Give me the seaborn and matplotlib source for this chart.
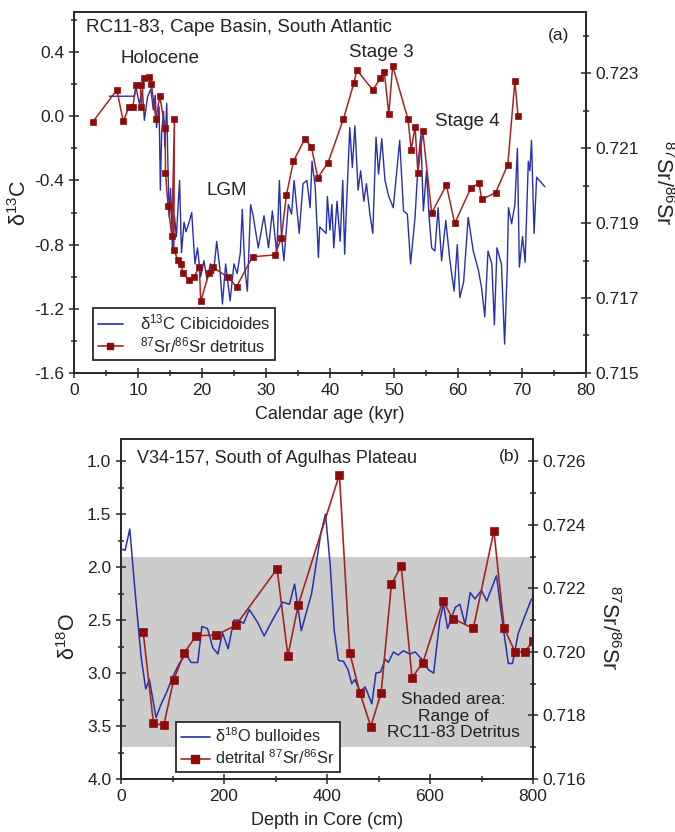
import numpy as np
import pandas as pd
import matplotlib
matplotlib.use('Agg')
import matplotlib.pyplot as plt
import matplotlib.ticker as mticker
import matplotlib.transforms as mtrans
from matplotlib.patches import Rectangle
from matplotlib.lines import Line2D
import seaborn as sns

# ---------------- data: panel (a) RC11-83 ----------------
age_d13c = [5.5, 9.4, 9.7, 10.2, 10.7, 11.0, 11.5, 12.0, 12.4, 12.7, 12.9, 13.3, 13.5, 13.7,
            14.0, 14.2, 14.5, 14.7, 14.9, 15.1, 15.4, 15.7, 16.0, 16.5, 16.8, 17.2, 17.5,
            18.0, 18.4, 18.9, 19.3, 19.8, 20.3, 20.8, 21.3, 21.8, 22.3, 22.8, 23.2, 23.7,
            24.0, 24.4, 25.0, 25.5, 26.0, 26.3, 26.7, 27.1, 27.6, 28.0, 28.8, 29.7, 30.4,
            31.0, 31.7, 32.1, 32.4, 32.8, 33.5, 34.0, 34.4, 35.2, 35.8, 36.4, 36.9, 37.2,
            37.7, 38.2, 38.4, 39.4, 39.6, 40.0, 40.3, 40.6, 41.1, 41.6, 42.0, 42.3, 42.6,
            43.1, 43.5, 43.9, 44.4, 44.8, 45.3, 45.7, 46.25, 46.7, 47.2, 47.6, 48.1, 48.6,
            49.2, 49.9, 50.9, 51.5, 52.1, 52.6, 53.3, 53.8, 54.2, 54.6, 55.1, 55.5, 55.9,
            56.4, 56.9, 57.45, 58.1, 58.75, 59.4, 59.9, 60.3, 60.9, 61.6, 62.4, 63.2, 63.7,
            64.2, 64.7, 65.3, 65.7, 66.1, 66.8, 67.3, 67.7, 67.9, 68.4, 68.9, 69.3, 69.6,
            70.1, 70.5, 71.0, 71.25, 71.5, 71.9, 72.3, 73.6]
d13c = [0.125, 0.125, 0.18, 0.08, 0.16, -0.025, 0.12, 0.17, 0.04, 0.13, -0.07, 0.06, -0.46, -0.10,
        0.03, -0.19, 0.08, -0.35, -0.63, -0.45, -0.85, -0.62, -0.75, -0.40, -0.85, -0.66, -0.72,
        -0.66, -0.60, -0.92, -0.82, -1.00, -0.90, -1.02, -0.92, -0.98, -0.78, -0.95, -1.17, -0.92,
        -1.02, -1.15, -0.92, -0.98, -0.85, -0.58, -0.95, -1.09, -0.55, -0.62, -0.82, -0.62, -0.82,
        -0.59, -0.86, -0.40, -0.73, -0.90, -0.55, -0.61, -0.40, -0.73, -0.42, -0.40, -0.57, -0.28,
        -0.44, -0.88, -0.69, -0.73, -0.50, -0.71, -0.55, -0.82, -0.53, -0.78, -0.40, -0.86, -0.55,
        -0.07, -0.32, -0.06, -0.46, -0.34, -0.53, -0.42, -0.61, -0.73, -0.13, -0.36, -0.14, -0.40,
        -0.50, -0.57, -0.15, -0.59, -0.61, -0.92, -0.63, -0.28, -0.12, -0.59, -0.34, -0.63, -0.82,
        -0.84, -0.57, -0.90, -0.65, -0.90, -1.09, -0.80, -1.13, -1.03, -0.63, -0.84, -0.96, -1.07,
        -1.25, -0.84, -0.92, -1.30, -0.82, -0.92, -1.42, -0.96, -0.57, -0.67, -0.55, -0.20, -0.94,
        -0.75, -0.91, -0.28, -0.34, -0.15, -0.73, -0.38, -0.44]

age_sr = [2.9, 6.7, 7.7, 8.6, 9.2, 9.7, 10.4, 10.5, 10.9, 11.8, 12.1, 12.8, 13.4, 14.25, 14.3,
          14.7, 15.3, 15.7, 15.6, 16.25, 16.8, 17.0, 18.0, 18.75, 19.6, 19.8, 21.1, 21.7, 24.1,
          25.4, 27.9, 31.4, 32.4, 33.2, 34.3, 36.1, 37.1, 38.1, 39.7, 42.1, 43.75, 44.2, 46.7,
          47.9, 48.5, 49.2, 49.8, 52.2, 52.7, 53.3, 53.75, 54.5, 55.9, 58.2, 59.5, 62.0, 63.3,
          63.7, 65.9, 67.8, 68.9, 69.4]
sr_a = [0.72169, 0.72255, 0.72171, 0.72210, 0.72210, 0.72268, 0.72268, 0.72210, 0.72288, 0.72290,
        0.72270, 0.72177, 0.72239, 0.72153, 0.72034, 0.71946, 0.71865, 0.72177, 0.71828, 0.71801,
        0.71790, 0.71766, 0.71747, 0.71757, 0.71782, 0.71691, 0.71766, 0.71782, 0.71755, 0.71730,
        0.71810, 0.71815, 0.71859, 0.71975, 0.72065, 0.72125, 0.72103, 0.72021, 0.72061, 0.72177,
        0.72274, 0.72308, 0.72255, 0.72286, 0.72303, 0.72190, 0.72319, 0.72177, 0.72095, 0.72157,
        0.72033, 0.72145, 0.71927, 0.72001, 0.71899, 0.71993, 0.72007, 0.71963, 0.71981, 0.72056,
        0.72279, 0.72185]

# ---------------- data: panel (b) V34-157 ----------------
depth_d18o = [0, 8, 17, 26, 39, 48, 55, 68, 78, 87, 100, 113, 126, 136, 149, 157, 168, 178, 188,
              197, 208, 219, 228, 238, 249, 265, 278, 294, 314, 327, 337, 350, 370, 388, 397,
              406, 414, 422, 432, 441, 448, 454, 464, 474, 487, 495, 504, 513, 519, 529, 538,
              548, 561, 571, 584, 597, 607, 619, 626, 634, 649, 658, 668, 678, 687, 700, 710,
              729, 742, 752, 760, 771, 781, 797]
d18o = [1.83, 1.84, 1.64, 2.16, 2.85, 3.15, 3.06, 3.42, 3.29, 3.20, 3.04, 2.91, 2.82, 2.90, 2.90,
        2.56, 2.58, 2.76, 2.82, 2.62, 2.77, 2.50, 2.50, 2.53, 2.40, 2.52, 2.65, 2.50, 2.33, 2.35,
        2.16, 2.60, 2.25, 1.68, 1.50, 1.97, 2.60, 2.88, 2.89, 2.97, 3.10, 3.06, 3.18, 3.13, 3.29,
        3.00, 2.99, 2.87, 2.90, 2.80, 2.83, 2.79, 2.82, 2.80, 2.87, 2.97, 3.00, 2.50, 2.35, 2.58,
        2.38, 2.35, 2.54, 2.24, 2.30, 2.22, 2.32, 2.08, 2.57, 2.91, 2.91, 2.63, 2.50, 2.30]

depth_sr = [43, 63, 83, 102, 123, 146, 185, 223, 303, 324, 344, 424, 444, 464, 485, 505, 525,
            544, 565, 586, 625, 644, 684, 724, 744, 765, 784, 800]
sr_b = [0.72063, 0.71775, 0.71769, 0.71911, 0.71998, 0.72051, 0.72053, 0.72084, 0.72261, 0.71988,
        0.72147, 0.72558, 0.71998, 0.71870, 0.71765, 0.71871, 0.72213, 0.72270, 0.71919, 0.71966,
        0.72161, 0.72105, 0.72074, 0.72381, 0.72074, 0.72000, 0.72000, 0.72035]

shade_sr_range = [0.717, 0.723]   # range of RC11-83 detritus

# ---------------- style ----------------
sns.set_style('ticks')
plt.rcParams['font.family'] = ['Liberation Sans', 'DejaVu Sans']
plt.rcParams['axes.unicode_minus'] = False
plt.rcParams['mathtext.fontset'] = 'custom'
plt.rcParams['mathtext.rm'] = 'Liberation Sans'
plt.rcParams['mathtext.it'] = 'Liberation Sans:italic'
plt.rcParams['mathtext.bf'] = 'Liberation Sans:bold'

BLUE = '#2630b0'
RED = '#a52424'
MARK = '#8c0c0c'
SPINE = '#2a2a2a'
TXT = '#222222'


def sup(s):
    return r'$^{\mathregular{' + s + '}}$'


def style_axes(ax):
    for sp in ax.spines.values():
        sp.set_color(SPINE)
        sp.set_linewidth(1.3)
        sp.set_visible(True)
    ax.tick_params(which='both', direction='inout', colors=SPINE, labelcolor=TXT,
                   labelsize=12.5, width=1.1, top=False)
    ax.tick_params(which='major', length=7)
    ax.tick_params(which='minor', length=4.5)
    ax.grid(False)
    ax.set_xlabel('')
    ax.set_ylabel('')


fig = plt.figure(figsize=(6.75, 8.32), dpi=100)

# ================= panel (a) =================
ax1 = fig.add_axes([0.1096, 0.5517, 0.7584, 0.4339])
ax2 = ax1.twinx()

df_c = pd.DataFrame({'age': age_d13c, 'd13c': d13c})
df_sa = pd.DataFrame({'age': age_sr, 'sr': sr_a})
sns.lineplot(data=df_c, x='age', y='d13c', ax=ax1, color=BLUE, lw=1.0,
             estimator=None, sort=False, legend=False)
sns.lineplot(data=df_sa, x='age', y='sr', ax=ax2, color=RED, lw=1.1, marker='s',
             markersize=4.6, markerfacecolor=MARK, markeredgecolor=MARK, markeredgewidth=0.5,
             estimator=None, sort=False, legend=False)

ax1.set_xlim(0, 80)
ax1.set_ylim(-1.6, 0.65)
ax2.set_ylim(0.715, 0.72463)
ax1.xaxis.set_major_locator(mticker.MultipleLocator(10))
ax1.xaxis.set_minor_locator(mticker.MultipleLocator(5))
ax1.yaxis.set_major_locator(mticker.FixedLocator([-1.6, -1.2, -0.8, -0.4, 0.0, 0.4]))
ax1.yaxis.set_minor_locator(mticker.MultipleLocator(0.2))
ax1.yaxis.set_major_formatter(mticker.FormatStrFormatter('%.1f'))
ax2.yaxis.set_major_locator(mticker.FixedLocator([0.715, 0.717, 0.719, 0.721, 0.723]))
ax2.yaxis.set_minor_locator(mticker.FixedLocator([0.716, 0.718, 0.720, 0.722, 0.724]))
ax2.yaxis.set_major_formatter(mticker.FormatStrFormatter('%.3f'))
style_axes(ax1)
style_axes(ax2)
ax1.tick_params(right=False)

ax1.text(0.023, 0.956, 'RC11-83, Cape Basin, South Atlantic', transform=ax1.transAxes,
         ha='left', va='center', fontsize=13.5, color=TXT)
ax1.text(0.947, 0.936, '(a)', transform=ax1.transAxes, ha='center', va='center',
         fontsize=12.5, color=TXT)
ax1.text(13.4, 0.36, 'Holocene', ha='center', va='center', fontsize=13.5, color=TXT)
ax1.text(23.8, -0.46, 'LGM', ha='center', va='center', fontsize=13.5, color=TXT)
ax1.text(48.0, 0.40, 'Stage 3', ha='center', va='center', fontsize=13.5, color=TXT)
ax1.text(61.4, -0.03, 'Stage 4', ha='center', va='center', fontsize=13.5, color=TXT)

ax1.set_xlabel('Calendar age (kyr)', fontsize=13, color=TXT, labelpad=6)

fig.text(20 / 675, 1 - 203 / 832, 'δ' + sup('13') + 'C', rotation=90, ha='center',
         va='center', fontsize=15.5, color=TXT)
fig.text(662 / 675, 1 - 183 / 832, sup('87') + 'Sr/' + sup('86') + 'Sr', rotation=270,
         ha='center', va='center', fontsize=15.5, color=TXT)

h_a = [Line2D([], [], color=BLUE, lw=1.2),
       Line2D([], [], color=RED, lw=1.2, marker='s', markersize=4.6, markerfacecolor=MARK,
              markeredgecolor=MARK)]
leg = ax2.legend(h_a, ['δ' + sup('13') + 'C Cibicidoides', sup('87') + 'Sr/' + sup('86') + 'Sr detritus'],
                 loc='lower left', bbox_to_anchor=(0.037, 0.036), borderaxespad=0,
                 fontsize=12, frameon=True, fancybox=False, edgecolor=SPINE, facecolor='white',
                 framealpha=1, handlelength=1.5, handletextpad=1.0, labelspacing=0.15,
                 borderpad=0.3)
leg.get_frame().set_linewidth(1.3)

# ================= panel (b) =================
ax3 = fig.add_axes([0.1793, 0.0637, 0.6104, 0.4087])
ax4 = ax3.twinx()
ax4.set_ylim(0.716, 0.7267)

shade_tr = mtrans.blended_transform_factory(ax3.transAxes, ax4.transData)
ax3.add_patch(Rectangle((0, shade_sr_range[0]), 1, shade_sr_range[1] - shade_sr_range[0],
                        transform=shade_tr, facecolor='#cccccc', edgecolor='none', zorder=0.5))

df_o = pd.DataFrame({'depth': depth_d18o, 'd18o': d18o})
df_sb = pd.DataFrame({'depth': depth_sr, 'sr': sr_b})
sns.lineplot(data=df_o, x='depth', y='d18o', ax=ax3, color=BLUE, lw=1.1,
             estimator=None, sort=False, legend=False)
sns.lineplot(data=df_sb, x='depth', y='sr', ax=ax4, color=RED, lw=1.2, marker='s',
             markersize=5.6, markerfacecolor=MARK, markeredgecolor=MARK, markeredgewidth=0.5,
             estimator=None, sort=False, legend=False)

ax3.set_xlim(0, 800)
ax3.set_ylim(4.0, 0.79)
ax4.set_ylim(0.716, 0.7267)
ax3.xaxis.set_major_locator(mticker.MultipleLocator(200))
ax3.xaxis.set_minor_locator(mticker.MultipleLocator(100))
ax3.yaxis.set_major_locator(mticker.FixedLocator([1.0, 1.5, 2.0, 2.5, 3.0, 3.5, 4.0]))
ax3.yaxis.set_minor_locator(mticker.MultipleLocator(0.25))
ax3.yaxis.set_major_formatter(mticker.FormatStrFormatter('%.1f'))
ax4.yaxis.set_major_locator(mticker.FixedLocator([0.716, 0.718, 0.720, 0.722, 0.724, 0.726]))
ax4.yaxis.set_minor_locator(mticker.FixedLocator([0.717, 0.719, 0.721, 0.723, 0.725]))
ax4.yaxis.set_major_formatter(mticker.FormatStrFormatter('%.3f'))
style_axes(ax3)
style_axes(ax4)
ax3.tick_params(right=False)

ax3.text(0.039, 0.944, 'V34-157, South of Agulhas Plateau', transform=ax3.transAxes,
         ha='left', va='center', fontsize=13, color=TXT)
ax3.text(0.942, 0.947, '(b)', transform=ax3.transAxes, ha='center', va='center',
         fontsize=12.5, color=TXT)
ax3.text(0.806, 0.185, 'Shaded area:\nRange of\nRC11-83 Detritus', transform=ax3.transAxes,
         ha='center', va='center', fontsize=12.5, color=TXT, linespacing=1.12, zorder=3)

ax3.set_xlabel('Depth in Core (cm)', fontsize=13, color=TXT, labelpad=6)

fig.text(69 / 675, 1 - 636 / 832, 'δ' + sup('18') + 'O', rotation=90, ha='center',
         va='center', fontsize=15.5, color=TXT)
fig.text(608 / 675, 1 - 628 / 832, sup('87') + 'Sr/' + sup('86') + 'Sr', rotation=270,
         ha='center', va='center', fontsize=15.5, color=TXT)

h_b = [Line2D([], [], color=BLUE, lw=1.2),
       Line2D([], [], color=RED, lw=1.2, marker='s', markersize=5.6, markerfacecolor=MARK,
              markeredgecolor=MARK)]
leg2 = ax4.legend(h_b, ['δ' + sup('18') + 'O bulloides', 'detrital ' + sup('87') + 'Sr/' + sup('86') + 'Sr'],
                  loc='lower left', bbox_to_anchor=(0.133, 0.02), borderaxespad=0,
                  fontsize=11.8, frameon=True, fancybox=False, edgecolor=SPINE,
                  facecolor='white', framealpha=1, handlelength=1.8, handletextpad=0.3,
                  labelspacing=0.2, borderpad=0.3)
leg2.get_frame().set_linewidth(1.3)

fig.savefig('out.png', dpi=100)
